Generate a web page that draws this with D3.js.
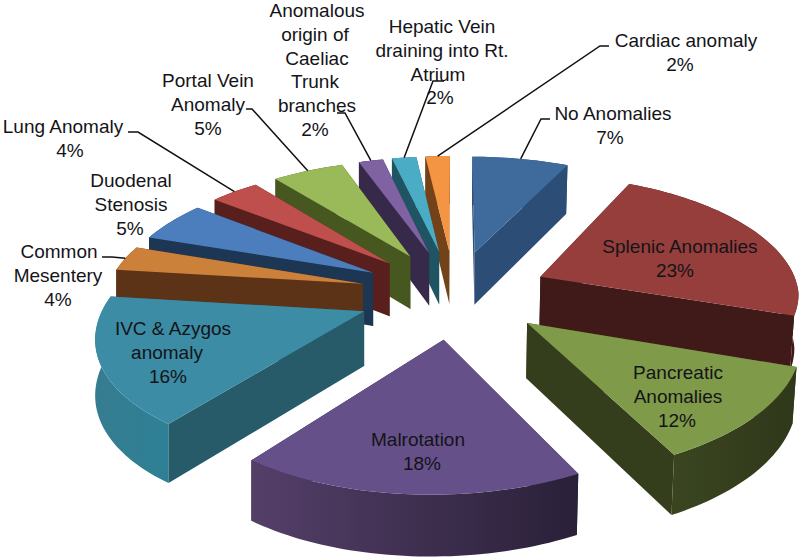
<!DOCTYPE html>
<html>
<head>
<meta charset="utf-8">
<script src="https://cdn.jsdelivr.net/npm/d3@7"></script>
<style>
  html, body { margin: 0; padding: 0; background: #fff; }
  text { font-family: "Liberation Sans", Arial, sans-serif; font-size: 19px; fill: #141418; }
</style>
</head>
<body>
<div id="wrapper"></div>
<script>
// 1. Data
const categories = ["No Anomalies", "Splenic Anomalies", "Pancreatic Anomalies", "Malrotation",
  "IVC & Azygos anomaly", "Common Mesentery", "Duodenal Stenosis", "Lung Anomaly",
  "Portal Vein Anomaly", "Anomalous origin of Caeliac Trunk branches",
  "Hepatic Vein draining into Rt. Atrium", "Cardiac anomaly"]
// slice sizes, the labels carry the rounded figures
const sliceSizes = [7.14, 23.08, 12.0, 17.92, 16.8, 3.33, 5.39, 3.64, 5.28, 1.81, 1.81, 1.81]
const radiusExtra = [0, 2, 5, 0, 0, 0, 0, 0, 0, 0, 0, 0]

const topColors = ["#3e6a9c", "#953e3c", "#7f9a48", "#66508a", "#3b8ca4", "#cc813b",
  "#4c7dbd", "#be4f4c", "#9aba59", "#7f62a1", "#4bacc6", "#f39543"]
const wallColors = ["#2c4d75", "#3f1a18", "#343e1c", "#2a2139", "#275b69", "#5c3316",
  "#1c3654", "#591f1d", "#46581f", "#37294a", "#1f5563", "#734218"]
const rimLeft = ["#2c4d75", "#3f1a18", "#3a4520", "#543f69", "#367c90", "#5c3316",
  "#1c3654", "#591f1d", "#46581f", "#37294a", "#1f5563", "#734218"]
const rimRight = ["#2c4d75", "#3f1a18", "#2f381a", "#2a2038", "#2e8096", "#5c3316",
  "#1c3654", "#591f1d", "#46581f", "#37294a", "#1f5563", "#734218"]

const labelLines = [
  ["No Anomalies", "7%"],
  ["Splenic Anomalies", "23%"],
  ["Pancreatic", "Anomalies", "12%"],
  ["Malrotation", "18%"],
  ["IVC & Azygos", "anomaly", "16%"],
  ["Common", "Mesentery", "4%"],
  ["Duodenal", "Stenosis", "5%"],
  ["Lung Anomaly", "4%"],
  ["Portal Vein", "Anomaly", "5%"],
  ["Anomalous", "origin of", "Caeliac", "Trunk", "branches", "2%"],
  ["Hepatic Vein", "draining into Rt.", "Atrium", "2%"],
  ["Cardiac anomaly", "2%"],
]
// center x of every label line and baseline of the first one
const labelX = [
  [613, 610], [680, 675], [678, 678, 677], [418, 422], [173, 167, 168], [59, 58, 58],
  [131, 131, 130], [63, 70], [208, 208, 208], [317, 315, 317, 315, 317, 315],
  [442, 442, 438, 440], [686, 680],
]
const labelY = [120, 253, 379, 446, 335, 258, 187, 133, 87, 17, 33, 47]
const lineGap = 23.8

// elbows of the leader lines, null when the label sits on its slice
const leaders = [
  [[541, 119], [550, 119]], null, null, null, null,
  [[112, 257], [102, 257]], null,
  [[138, 132], [128, 132]],
  [[252, 109], [246, 109]],
  [[345, 113], [337, 113]],
  [[433, 81], [444, 81]],
  [[600, 46], [609, 46]],
]

// 2. Dimensions and the fake 3d projection
const width = 800
const height = 560
const view = { cx: 454.5, cy: 293.5, tilt: 0.4643, persp: 0.000535, skew: 0.035 }
const radius = 257
const explode = 95
const thickness = 54

const project = (X, Y) => {
  const w = 1 - view.persp * Y
  return {
    x: view.cx + (X - view.skew * Math.max(Y, 0)) / w,
    y: view.cy + (view.tilt * Y) / w,
    depth: thickness * Math.pow(w, -0.65),
  }
}

const pie = d3.pie().sort(null).value(d => d)
const slices = pie(sliceSizes).map((d, i) => {
  const mid = (d.startAngle + d.endAngle) / 2
  const point = (angle, r) =>
    project(
      explode * Math.sin(mid) + r * Math.sin(angle),
      -(explode * Math.cos(mid) + r * Math.cos(angle))
    )
  return { ...d, i, mid, point, apex: point(mid, 0) }
})

// 3. Canvas
const svg = d3.select("#wrapper").append("svg")
  .attr("width", width)
  .attr("height", height)
  .style("display", "block")
const defs = svg.append("defs")
const line = d3.line().x(d => d.x).y(d => d.y)
// the underside pulls in a little on the right hand side
const lowered = p => ({
  x: p.x - Math.max(0, p.x - view.cx) * 0.012,
  y: p.y + p.depth,
})

// 4. Slices, back to front
slices.slice().sort((a, b) => a.apex.y - b.apex.y).forEach(s => {
  const g = svg.append("g").attr("class", "slice")
  const steps = Math.max(8, Math.round((s.endAngle - s.startAngle) * 40))
  const rim = d3.range(steps + 1).map(k =>
    s.point(s.startAngle + ((s.endAngle - s.startAngle) * k) / steps, radius + radiusExtra[s.i]))
  const first = rim[0]
  const last = rim[rim.length - 1]

  const walls = [
    { pts: [s.apex, first, lowered(first), lowered(s.apex)], fill: wallColors[s.i] },
    { pts: [s.apex, last, lowered(last), lowered(s.apex)], fill: wallColors[s.i] },
  ]
  const gradId = `rim-${s.i}`
  const grad = defs.append("linearGradient")
    .attr("id", gradId)
    .attr("gradientUnits", "userSpaceOnUse")
    .attr("x1", d3.min(rim, d => d.x)).attr("x2", d3.max(rim, d => d.x))
    .attr("y1", 0).attr("y2", 0)
  grad.append("stop").attr("offset", 0).attr("stop-color", rimLeft[s.i])
  grad.append("stop").attr("offset", 1).attr("stop-color", rimRight[s.i])
  walls.push({ pts: rim.concat(rim.map(lowered).reverse()), fill: `url(#${gradId})` })

  walls
    .sort((a, b) => d3.mean(a.pts, d => d.y) - d3.mean(b.pts, d => d.y))
    .forEach(w => {
      g.append("path").attr("d", line(w.pts) + "Z").attr("fill", w.fill)
    })
  g.append("path")
    .attr("d", line([s.apex].concat(rim)) + "Z")
    .attr("fill", topColors[s.i])
})

// 5. Leader lines
slices.forEach(s => {
  if (!leaders[s.i]) return
  svg.append("path")
    .attr("d", line([s.point(s.mid, radius)].concat(leaders[s.i].map(p => ({ x: p[0], y: p[1] })))))
    .attr("fill", "none")
    .attr("stroke", "#111")
    .attr("stroke-width", 1.5)
})

// 6. Labels
labelLines.forEach((lines, i) => {
  svg.append("text")
    .attr("text-anchor", "middle")
    .selectAll("tspan")
    .data(lines)
    .join("tspan")
    .attr("x", (d, j) => labelX[i][j])
    .attr("y", (d, j) => labelY[i] + j * lineGap)
    .text(d => d)
})
</script>
</body>
</html>
